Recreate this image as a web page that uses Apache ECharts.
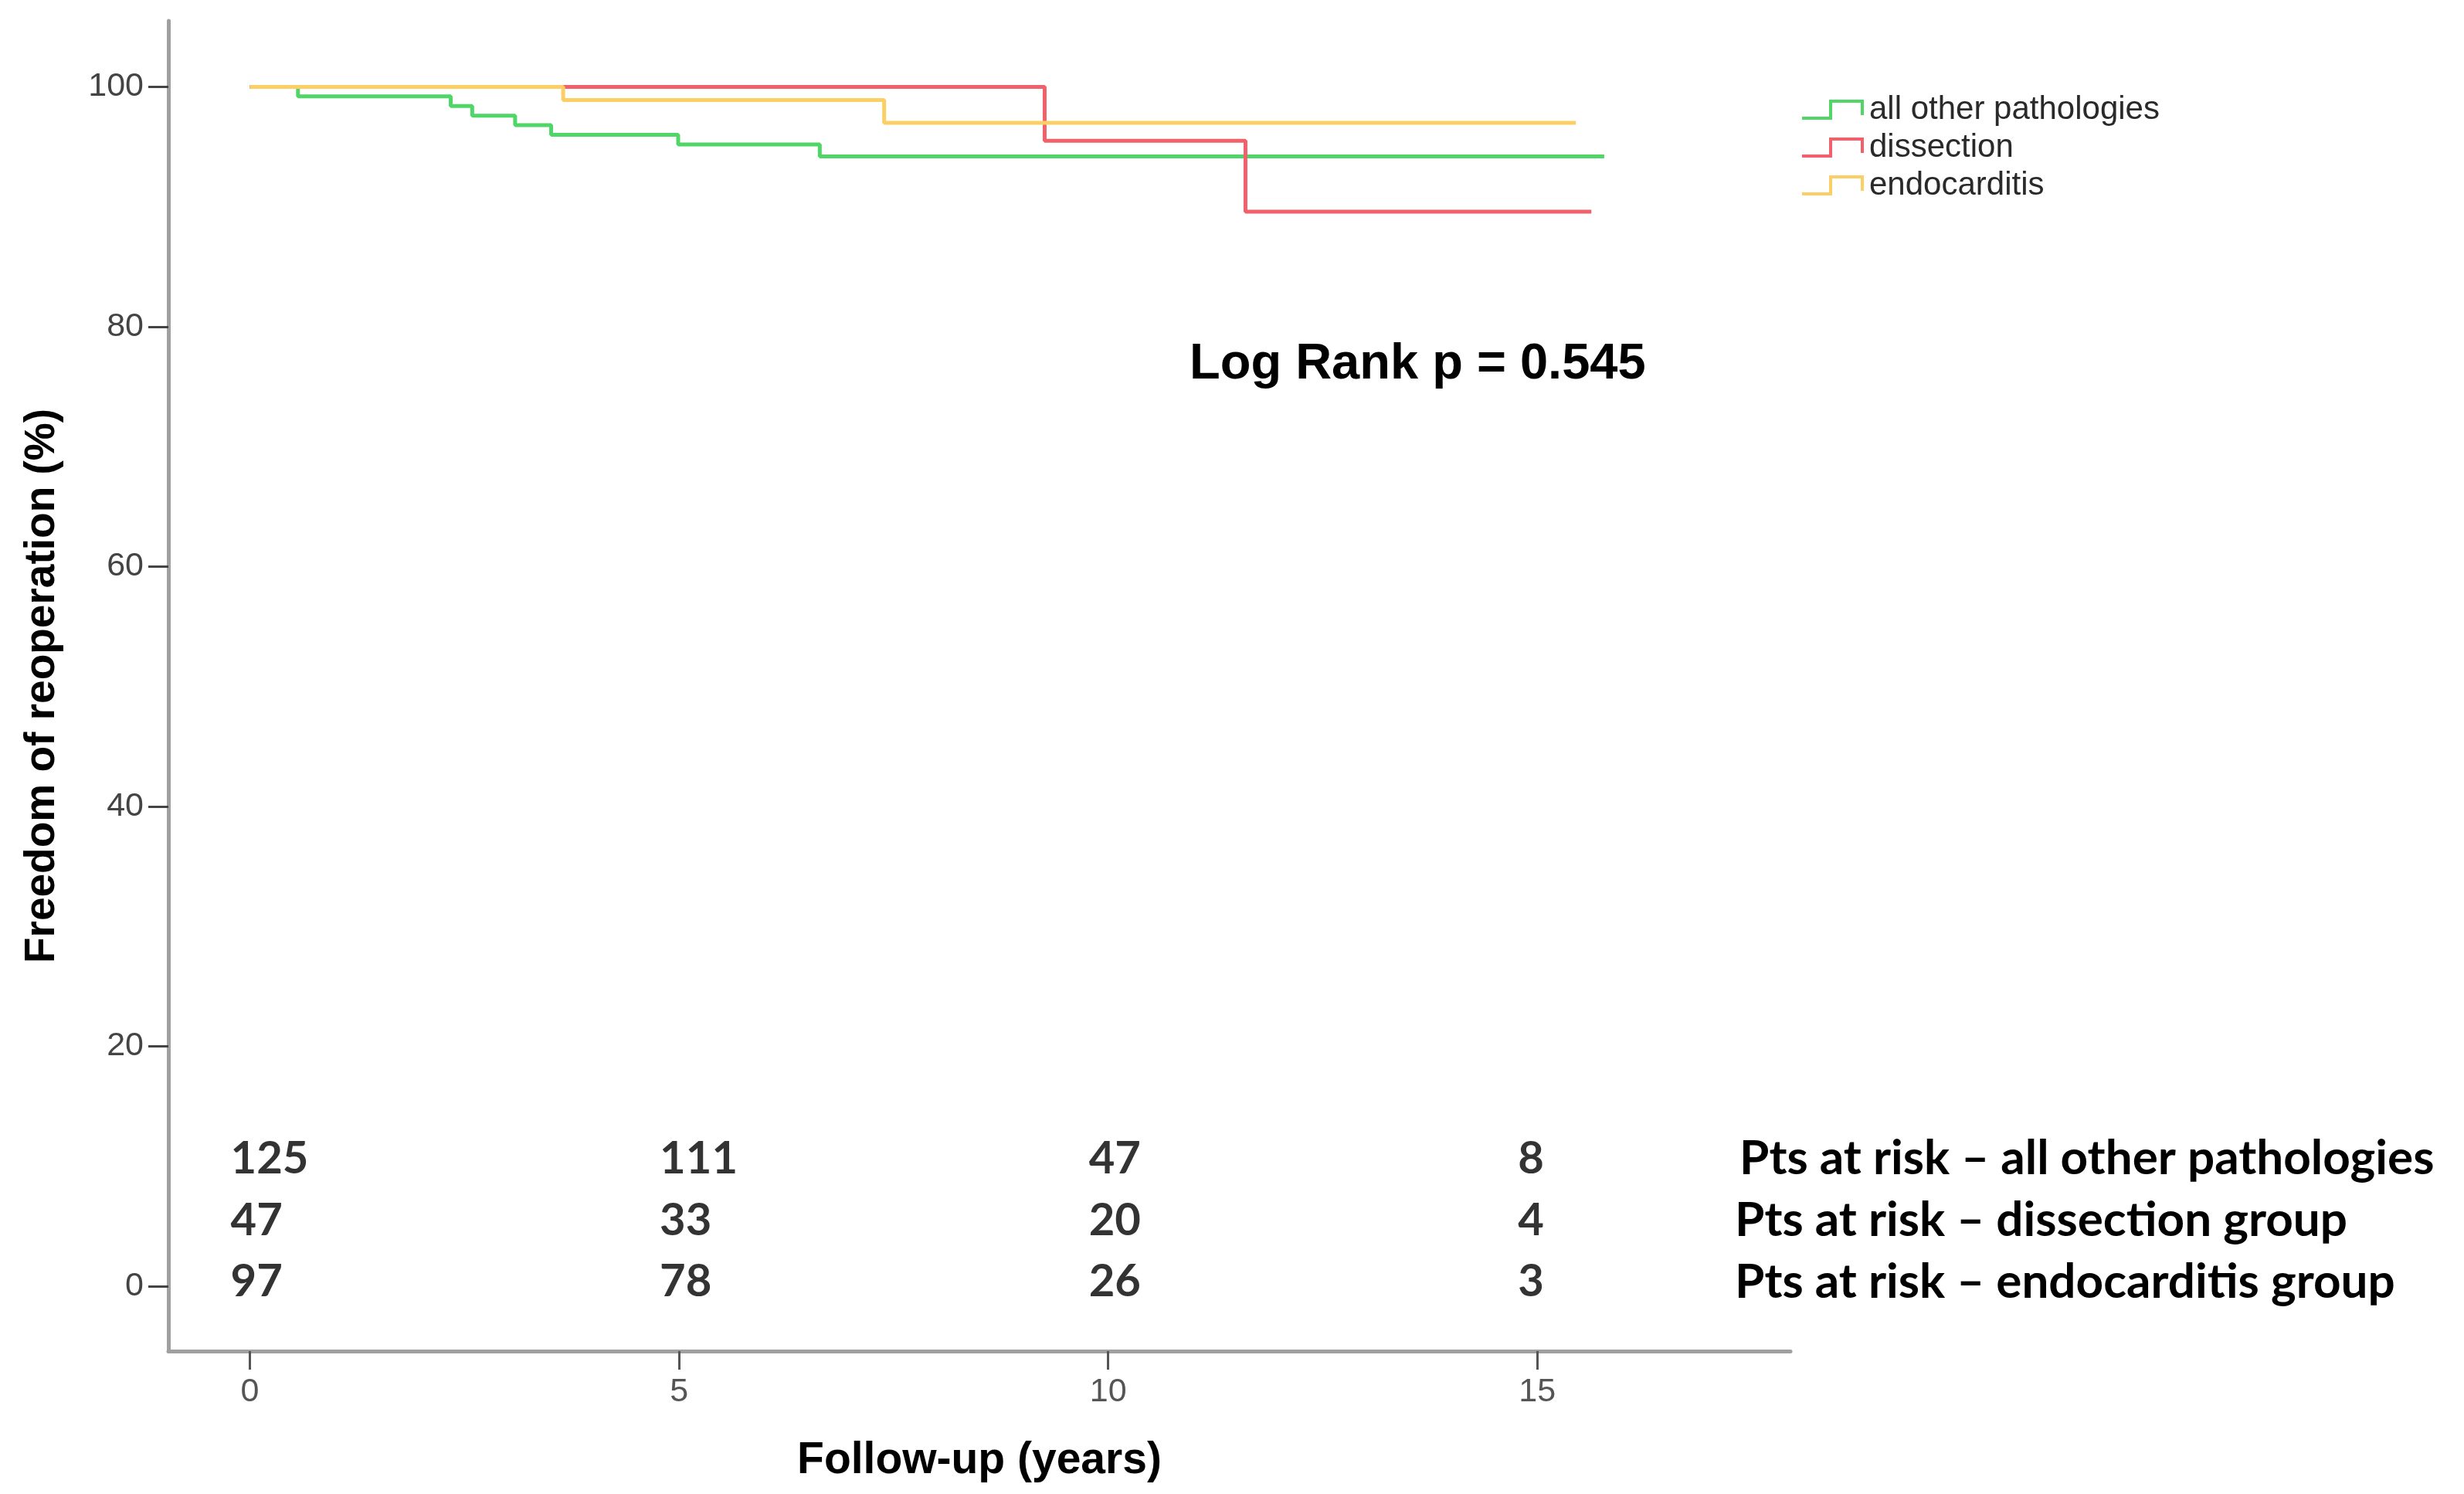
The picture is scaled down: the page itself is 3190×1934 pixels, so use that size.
<!DOCTYPE html>
<html>
<head>
<meta charset="utf-8">
<script src="https://cdn.jsdelivr.net/npm/echarts@6/dist/echarts.min.js"></script>
<style>
  html, body { margin: 0; padding: 0; background: #ffffff; }
  #chart { width: 3190px; height: 1934px; }
</style>
</head>
<body>
<div id="chart"></div>
<script>
// ---- Data ----
const seriesNames = ['all other pathologies', 'dissection', 'endocarditis'];
const timesOther = [0, 0.56, 2.34, 2.59, 3.09, 3.51, 4.99, 6.64, 15.78];
const survOther  = [100, 99.2, 98.4, 97.6, 96.8, 96.0, 95.2, 94.2, 94.2];
const timesDiss  = [0, 9.26, 11.6, 15.63];
const survDiss   = [100, 95.5, 89.6, 89.6];
const timesEndo  = [0, 3.65, 7.39, 15.45];
const survEndo   = [100, 98.9, 97.0, 97.0];

const xTicks = [0, 5, 10, 15];
const yTicks = [0, 20, 40, 60, 80, 100];

const riskTimes = [0, 5, 10, 15];
const atRiskOther = [125, 111, 47, 8];
const atRiskDiss  = [47, 33, 20, 4];
const atRiskEndo  = [97, 78, 26, 3];
const riskLabels = [
  'Pts at risk \u2013 all other pathologies',
  'Pts at risk \u2013 dissection group',
  'Pts at risk \u2013 endocarditis group'
];
const pValueText = 'Log Rank p = 0.545';
const xTitle = 'Follow-up (years)';
const yTitle = 'Freedom of reoperation (%)';

// ---- Styling / layout ----
const colors = ['#4fd667', '#f0616c', '#fbcf66'];
const axisFont = '"Liberation Sans", Arial, sans-serif';
const riskFont = 'Lato, "Open Sans", sans-serif';

function pairs(ts, vs) { return ts.map((t, i) => [t, vs[i]]); }

const kmData = [pairs(timesOther, survOther), pairs(timesDiss, survDiss), pairs(timesEndo, survEndo)];

const kmSeries = kmData.map((d, i) => ({
  name: seriesNames[i],
  type: 'line',
  step: 'end',
  data: d,
  showSymbol: false,
  symbol: 'none',
  lineStyle: { color: colors[i], width: 5 },
  itemStyle: { color: colors[i] },
  z: 2 + i,
  silent: true
}));

const riskRowY = [10.6, 5.45, 0.35];
const riskSets = [atRiskOther, atRiskDiss, atRiskEndo];
const riskSeries = riskSets.map((vals, r) => ({
  name: 'risk' + r,
  type: 'scatter',
  symbolSize: 0,
  clip: false,
  silent: true,
  data: riskTimes.map((t, i) => [t, riskRowY[r], vals[i]]),
  label: {
    show: true,
    position: 'right',
    distance: 0,
    offset: [-25, 0],
    formatter: p => String(p.value[2]),
    fontFamily: riskFont,
    fontWeight: 'bold',
    fontSize: 58,
    color: '#000'
  }
}));

const stepIcon = 'path://M0,22 L35,22 L35,0 L80,0 L80,20 L76,20 L76,4 L39,4 L39,26 L0,26 Z';

const chart = echarts.init(document.getElementById('chart'), null, { renderer: 'canvas' });
const option = {
  animation: false,
  backgroundColor: '#ffffff',
  grid: { left: 218, right: 872, top: 27, bottom: 185, containLabel: false, outerBoundsMode: 'none' },
  legend: {
    data: seriesNames,
    orient: 'vertical',
    left: 2328,
    top: 116,
    icon: stepIcon,
    itemWidth: 80,
    itemHeight: 26,
    itemGap: 7,
    selectedMode: false,
    textStyle: { fontFamily: axisFont, fontSize: 42, color: '#2a2a2a', lineHeight: 42, padding: [0, 0, 0, 2] }
  },
  xAxis: {
    type: 'value',
    min: -0.95,
    max: 17.95,
    name: xTitle,
    nameLocation: 'middle',
    nameGap: 114,
    nameTextStyle: { fontFamily: axisFont, fontWeight: 'bold', fontSize: 57, color: '#000' },
    splitLine: { show: false },
    axisLine: { show: true, onZero: false, lineStyle: { color: '#a0a0a0', width: 5 } },
    axisTick: { show: true, customValues: xTicks, length: 24, lineStyle: { color: '#555', width: 3 } },
    axisLabel: { customValues: xTicks, margin: 32, fontFamily: axisFont, fontSize: 43, color: '#555' }
  },
  yAxis: {
    type: 'value',
    min: -5.4,
    max: 105.5,
    name: yTitle,
    nameLocation: 'middle',
    nameGap: 136,
    nameRotate: 90,
    nameTextStyle: { fontFamily: axisFont, fontWeight: 'bold', fontSize: 55, color: '#000' },
    splitLine: { show: false },
    axisLine: { show: true, onZero: false, lineStyle: { color: '#a0a0a0', width: 5 } },
    axisTick: { show: true, customValues: yTicks, length: 26, lineStyle: { color: '#444', width: 3 } },
    axisLabel: { customValues: yTicks, margin: 32, fontFamily: axisFont, fontSize: 43, color: '#444' }
  },
  graphic: [
    {
      type: 'text',
      style: { x: 1540, y: 472, text: pValueText, font: 'bold 65px "Liberation Sans", Arial, sans-serif', fill: '#000', textAlign: 'left', textVerticalAlign: 'middle', verticalAlign: 'middle' }
    }
  ].concat(riskLabels.map((t, r) => ({
    type: 'text',
    style: { x: r === 0 ? 2252 : 2246, y: 1500 + r * 80, text: t, font: 'bold 62px Lato, "Open Sans", sans-serif', fill: '#000', textAlign: 'left', textVerticalAlign: 'middle', verticalAlign: 'middle' }
  }))),
  series: kmSeries.concat(riskSeries)
};
chart.setOption(option);
</script>
</body>
</html>
